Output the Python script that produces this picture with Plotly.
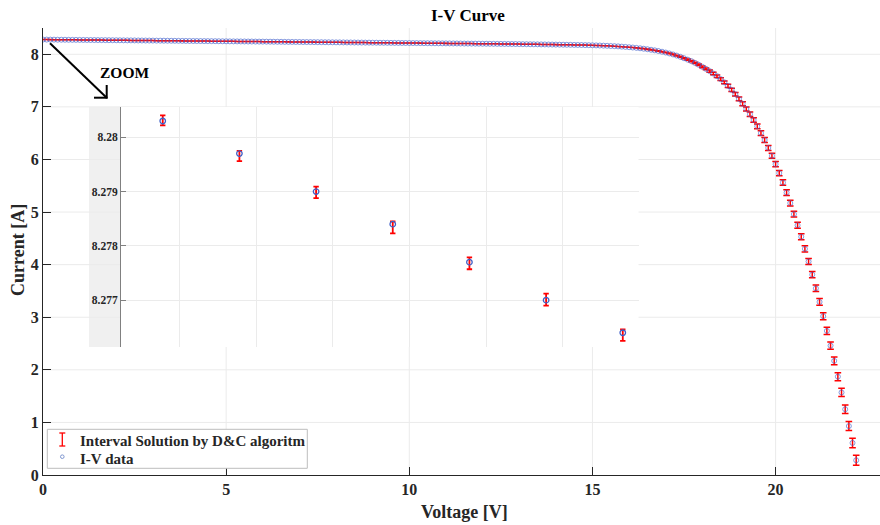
import plotly.graph_objects as go

# ---------------- data ----------------
voltage = [
    0.0, 0.1, 0.2, 0.3, 0.4, 0.5, 0.6, 0.7, 0.8, 0.9,
    1.0, 1.1, 1.2, 1.3, 1.4, 1.5, 1.6, 1.7, 1.8, 1.9,
    2.0, 2.1, 2.2, 2.3, 2.4, 2.5, 2.6, 2.7, 2.8, 2.9,
    3.0, 3.1, 3.2, 3.3, 3.4, 3.5, 3.6, 3.7, 3.8, 3.9,
    4.0, 4.1, 4.2, 4.3, 4.4, 4.5, 4.6, 4.7, 4.8, 4.9,
    5.0, 5.1, 5.2, 5.3, 5.4, 5.5, 5.6, 5.7, 5.8, 5.9,
    6.0, 6.1, 6.2, 6.3, 6.4, 6.5, 6.6, 6.7, 6.8, 6.9,
    7.0, 7.1, 7.2, 7.3, 7.4, 7.5, 7.6, 7.7, 7.8, 7.9,
    8.0, 8.1, 8.2, 8.3, 8.4, 8.5, 8.6, 8.7, 8.8, 8.9,
    9.0, 9.1, 9.2, 9.3, 9.4, 9.5, 9.6, 9.7, 9.8, 9.9,
    10.0, 10.1, 10.2, 10.3, 10.4, 10.5, 10.6, 10.7, 10.8, 10.9,
    11.0, 11.1, 11.2, 11.3, 11.4, 11.5, 11.6, 11.7, 11.8, 11.9,
    12.0, 12.1, 12.2, 12.3, 12.4, 12.5, 12.6, 12.7, 12.8, 12.9,
    13.0, 13.1, 13.2, 13.3, 13.4, 13.5, 13.6, 13.7, 13.8, 13.9,
    14.0, 14.1, 14.2, 14.3, 14.4, 14.5, 14.6, 14.7, 14.8, 14.9,
    15.0, 15.1, 15.2, 15.3, 15.4, 15.5, 15.6, 15.7, 15.8, 15.9,
    16.0, 16.1, 16.2, 16.3, 16.4, 16.5, 16.6, 16.7, 16.8, 16.9,
    17.0, 17.1, 17.2, 17.3, 17.4, 17.5, 17.6, 17.7, 17.8, 17.9,
    18.0, 18.1, 18.2, 18.3, 18.4, 18.5, 18.6, 18.7, 18.8, 18.9,
    19.0, 19.1, 19.2, 19.3, 19.4, 19.5, 19.6, 19.7, 19.8, 19.9,
    20.0, 20.1, 20.2, 20.3, 20.4, 20.5, 20.6, 20.7, 20.8, 20.9,
    21.0, 21.1, 21.2, 21.3, 21.4, 21.5, 21.6, 21.7, 21.8, 21.9,
    22.0, 22.1, 22.2,
]

current = [
    8.2803, 8.2797, 8.2790, 8.2784, 8.2777, 8.2770, 8.2764, 8.2757, 8.2750, 8.2744,
    8.2737, 8.2730, 8.2724, 8.2717, 8.2711, 8.2704, 8.2697, 8.2691, 8.2684, 8.2678,
    8.2671, 8.2664, 8.2658, 8.2651, 8.2645, 8.2638, 8.2631, 8.2625, 8.2618, 8.2612,
    8.2605, 8.2598, 8.2592, 8.2585, 8.2579, 8.2572, 8.2565, 8.2559, 8.2552, 8.2546,
    8.2539, 8.2532, 8.2526, 8.2519, 8.2513, 8.2506, 8.2499, 8.2493, 8.2486, 8.2480,
    8.2473, 8.2466, 8.2460, 8.2453, 8.2447, 8.2440, 8.2433, 8.2427, 8.2420, 8.2414,
    8.2407, 8.2400, 8.2394, 8.2387, 8.2381, 8.2374, 8.2367, 8.2361, 8.2354, 8.2348,
    8.2341, 8.2334, 8.2328, 8.2321, 8.2315, 8.2308, 8.2301, 8.2295, 8.2288, 8.2282,
    8.2275, 8.2268, 8.2262, 8.2255, 8.2249, 8.2242, 8.2235, 8.2229, 8.2222, 8.2216,
    8.2209, 8.2202, 8.2196, 8.2189, 8.2183, 8.2176, 8.2169, 8.2163, 8.2156, 8.2150,
    8.2143, 8.2136, 8.2130, 8.2123, 8.2117, 8.2110, 8.2103, 8.2097, 8.2090, 8.2084,
    8.2077, 8.2070, 8.2064, 8.2057, 8.2051, 8.2044, 8.2037, 8.2031, 8.2024, 8.2018,
    8.2011, 8.2004, 8.1998, 8.1991, 8.1985, 8.1978, 8.1971, 8.1965, 8.1958, 8.1952,
    8.1935, 8.1927, 8.1919, 8.1910, 8.1902, 8.1892, 8.1882, 8.1873, 8.1862, 8.1851,
    8.1839, 8.1829, 8.1819, 8.1808, 8.1798, 8.1786, 8.1773, 8.1762, 8.1747, 8.1731,
    8.1713, 8.1691, 8.1668, 8.1641, 8.1613, 8.1580, 8.1543, 8.1503, 8.1457, 8.1406,
    8.1347, 8.1286, 8.1220, 8.1144, 8.1060, 8.0964, 8.0863, 8.0751, 8.0626, 8.0488,
    8.0331, 8.0159, 7.9968, 7.9754, 7.9515, 7.9248, 7.8984, 7.8695, 7.8372, 7.8017,
    7.7615, 7.7228, 7.6802, 7.6345, 7.5839, 7.5282, 7.466, 7.398, 7.323, 7.241,
    7.151, 7.06, 6.96, 6.86, 6.75, 6.63, 6.50, 6.37, 6.22, 6.07,
    5.91, 5.74, 5.56, 5.37, 5.17, 4.96, 4.75, 4.53, 4.30, 4.06,
    3.81, 3.55, 3.29, 3.02, 2.74, 2.46, 2.17, 1.87, 1.57, 1.25,
    0.93, 0.61, 0.28,
]

# upper half-width of each interval solution
err_hi = [
    0.000105, 0.00005, 0.00009, 0.00005, 0.00009, 0.00012, 0.00006, 0.0001, 0.0001, 0.0001,
    0.0001, 0.0001, 0.0001, 0.0001, 0.0001, 0.0001, 0.0001, 0.0001, 0.0001, 0.0001,
    0.0001, 0.0001, 0.0001, 0.0001, 0.0001, 0.0001, 0.0001, 0.0001, 0.0001, 0.0001,
    0.0001, 0.0001, 0.0001, 0.0001, 0.0001, 0.0001, 0.0001, 0.0001, 0.0001, 0.0001,
    0.0001, 0.0001, 0.0001, 0.0001, 0.0001, 0.0001, 0.0001, 0.0001, 0.0001, 0.0001,
    0.0001, 0.0001, 0.0001, 0.0001, 0.0001, 0.0001, 0.0001, 0.0001, 0.0001, 0.0001,
    0.0001, 0.0001, 0.0001, 0.0001, 0.0001, 0.0001, 0.0001, 0.0001, 0.0001, 0.0001,
    0.0001, 0.0001, 0.0001, 0.0001, 0.0001, 0.0001, 0.0001, 0.0001, 0.0001, 0.0001,
    0.0001, 0.0001, 0.0001, 0.0001, 0.0001, 0.0001, 0.0001, 0.0001, 0.0001, 0.0001,
    0.0001, 0.0001, 0.0001, 0.0001, 0.0001, 0.0001, 0.0001, 0.0001, 0.0001, 0.0001,
    0.0001, 0.0001, 0.0001, 0.0001, 0.0001, 0.0001, 0.0001, 0.0001, 0.0001, 0.0001,
    0.0001, 0.0001, 0.0001, 0.0001, 0.0001, 0.0001, 0.0001, 0.0001, 0.0001, 0.0001,
    0.0001, 0.0001, 0.0001, 0.0001, 0.0001, 0.0001, 0.0001, 0.0001, 0.0001, 0.0001,
    0.0001, 0.0001, 0.0001, 0.0001, 0.0001, 0.0001, 0.0001, 0.0001, 0.0001, 0.0001,
    0.0001, 0.0001, 0.0001, 0.0001, 0.0001, 0.0001, 0.0001, 0.0001, 0.0001, 0.0001,
    0.0001, 0.0001, 0.0001, 0.0001, 0.0001, 0.0001, 0.0001, 0.0001, 0.0001, 0.0001,
    0.001, 0.0013, 0.0016, 0.002, 0.0025, 0.003, 0.0035, 0.004, 0.0047, 0.0053,
    0.006, 0.0068, 0.0076, 0.0084, 0.0092, 0.010, 0.011, 0.012, 0.013, 0.0145,
    0.016, 0.018, 0.020, 0.022, 0.024, 0.026, 0.028, 0.030, 0.032, 0.034,
    0.036, 0.038, 0.040, 0.042, 0.044, 0.045, 0.046, 0.047, 0.048, 0.049,
    0.050, 0.051, 0.052, 0.053, 0.054, 0.055, 0.056, 0.057, 0.058, 0.059,
    0.060, 0.062, 0.064, 0.066, 0.068, 0.070, 0.073, 0.076, 0.079, 0.082,
    0.086, 0.090, 0.095,
]
# lower half-widths differ only for the first (zoomed) points
err_lo_zoomed = [0.00008, 0.00014, 0.00012, 0.00017, 0.00013, 0.0001, 0.00015]
err_lo = err_lo_zoomed + err_hi[len(err_lo_zoomed):]

x_ticks = [0, 5, 10, 15, 20]
y_ticks = [0, 1, 2, 3, 4, 5, 6, 7, 8]
inset_y_ticks = [8.277, 8.278, 8.279, 8.28]
inset_y_text = ["8.277", "8.278", "8.279", "8.28"]
inset_x_grid = [0.0217, 0.1217, 0.2217, 0.3217, 0.4217, 0.5217]

# ---------------- layout helpers (pixel -> paper) ----------------
W, H = 880, 525
ML, MR, MT, MB = 43, 0, 28, 50
PW, PH = W - ML - MR, H - MT - MB
def X(px):
    return (px - ML) / PW
def Y(py):
    return (H - MB - py) / PH

FONT = "Liberation Serif, Times New Roman, serif"
DARK = "#262626"
RED = "#ff0000"
GRID = "#ebebeb"

fig = go.Figure()

# main axes
fig.add_trace(go.Scatter(
    x=voltage, y=current, mode="markers",
    marker=dict(size=1, color="rgba(0,0,0,0)"),
    error_y=dict(type="data", symmetric=False, array=err_hi, arrayminus=err_lo,
                 color=RED, thickness=1.5, width=3.3),
    showlegend=False, hoverinfo="skip", xaxis="x", yaxis="y"))
fig.add_trace(go.Scatter(
    x=voltage, y=current, mode="markers",
    marker=dict(symbol="circle-open", size=5, color="rgba(70,100,205,0.65)",
                line=dict(width=1, color="rgba(70,100,205,0.65)")),
    showlegend=False, xaxis="x", yaxis="y"))

# zoomed inset
fig.add_trace(go.Scatter(
    x=voltage, y=current, mode="markers",
    marker=dict(size=1, color="rgba(0,0,0,0)"),
    error_y=dict(type="data", symmetric=False, array=err_hi, arrayminus=err_lo,
                 color=RED, thickness=1.8, width=2.7),
    showlegend=False, hoverinfo="skip", xaxis="x2", yaxis="y2"))
fig.add_trace(go.Scatter(
    x=voltage, y=current, mode="markers",
    marker=dict(symbol="circle-open", size=5.5, color="#4060c8",
                line=dict(width=1.3, color="#4060c8")),
    showlegend=False, xaxis="x2", yaxis="y2"))

x_max = PW / 36.63
shapes = []
# main grid lines
for xv in x_ticks[1:]:
    shapes.append(dict(type="line", xref="x", yref="y", x0=xv, x1=xv, y0=0, y1=8.5,
                       line=dict(color=GRID, width=1), layer="below"))
for yv in y_ticks[1:]:
    shapes.append(dict(type="line", xref="x", yref="y", x0=0, x1=x_max, y0=yv, y1=yv,
                       line=dict(color=GRID, width=1), layer="below"))
# inset background + grey figure strip
shapes.append(dict(type="rect", xref="paper", yref="paper", x0=X(121), x1=X(638.5),
                   y0=Y(347), y1=Y(107), fillcolor="white", line=dict(width=0), layer="below"))
shapes.append(dict(type="rect", xref="paper", yref="paper", x0=X(89), x1=X(121),
                   y0=Y(347), y1=Y(107), fillcolor="#f0f0f0", line=dict(width=0), layer="below"))
# zoom arrow
arrow = dict(color="black", width=2)
shapes.append(dict(type="line", xref="paper", yref="paper", x0=X(50), y0=Y(43.3),
                   x1=X(106.7), y1=Y(97.7), line=arrow))
shapes.append(dict(type="line", xref="paper", yref="paper", x0=X(94), y0=Y(97.7),
                   x1=X(107.5), y1=Y(97.7), line=arrow))
shapes.append(dict(type="line", xref="paper", yref="paper", x0=X(106.7), y0=Y(85),
                   x1=X(106.7), y1=Y(98.5), line=arrow))
# legend box
shapes.append(dict(type="rect", xref="paper", yref="paper", x0=X(47.3), x1=X(307.3),
                   y0=Y(468.3), y1=Y(429.3), fillcolor="white",
                   line=dict(color="#bdbdbd", width=1)))
lr = dict(color=RED, width=1.3)
shapes.append(dict(type="line", xref="paper", yref="paper", x0=X(62.3), x1=X(62.3),
                   y0=Y(433), y1=Y(446), line=lr))
shapes.append(dict(type="line", xref="paper", yref="paper", x0=X(59.3), x1=X(65.3),
                   y0=Y(433), y1=Y(433), line=lr))
shapes.append(dict(type="line", xref="paper", yref="paper", x0=X(59.3), x1=X(65.3),
                   y0=Y(446), y1=Y(446), line=lr))
shapes.append(dict(type="circle", xref="paper", yref="paper", x0=X(60.5), x1=X(64.1),
                   y0=Y(458.5), y1=Y(454.9), line=dict(color="#8097d0", width=1)))

annotations = [
    dict(text="I-V Curve", x=X(468), y=Y(15), xref="paper", yref="paper",
         showarrow=False, xanchor="center", yanchor="middle",
         font=dict(family=FONT, size=17, color="black", weight="bold")),
    dict(text="Voltage [V]", x=X(464), y=Y(512), xref="paper", yref="paper",
         showarrow=False, xanchor="center", yanchor="middle",
         font=dict(family=FONT, size=18, color=DARK, weight="bold")),
    dict(text="Current [A]", x=X(18), y=Y(250), xref="paper", yref="paper",
         showarrow=False, xanchor="center", yanchor="middle", textangle=-90,
         font=dict(family=FONT, size=18, color=DARK, weight="bold")),
    dict(text="ZOOM", x=X(124.7), y=Y(72.5), xref="paper", yref="paper",
         showarrow=False, xanchor="center", yanchor="middle",
         font=dict(family=FONT, size=15.5, color="black", weight="bold")),
    dict(text="Interval Solution by D&C algoritm", x=X(77.7), y=Y(440.7),
         xref="paper", yref="paper", showarrow=False, xanchor="left", yanchor="middle",
         font=dict(family=FONT, size=15, color=DARK, weight="bold")),
    dict(text="I-V data", x=X(77.7), y=Y(459.3),
         xref="paper", yref="paper", showarrow=False, xanchor="left", yanchor="middle",
         font=dict(family=FONT, size=15, color=DARK, weight="bold")),
]

tickfont = dict(family=FONT, size=16, color=DARK, weight="bold")
fig.update_layout(
    width=W, height=H, autosize=False,
    margin=dict(l=ML, r=MR, t=MT, b=MB, pad=0),
    paper_bgcolor="white", plot_bgcolor="white",
    showlegend=False,
    shapes=shapes, annotations=annotations,
    xaxis=dict(domain=[0, 1], range=[0, x_max], tickvals=x_ticks, ticks="inside",
               ticklen=8, tickcolor=DARK, showline=True, linecolor=DARK, linewidth=1,
               showgrid=False, zeroline=False, tickfont=tickfont, anchor="y"),
    yaxis=dict(domain=[0, 1], range=[0, 8.5], tickvals=y_ticks, ticks="inside",
               ticklen=8, tickcolor=DARK, showline=True, linecolor=DARK, linewidth=1,
               showgrid=False, zeroline=False, tickfont=tickfont, anchor="x"),
    xaxis2=dict(domain=[X(121), X(638.5)], range=[-0.05444, 0.6205], anchor="y2",
                tickvals=inset_x_grid, showticklabels=False, ticks="",
                showgrid=True, gridcolor=GRID, showline=False, zeroline=False),
    yaxis2=dict(domain=[Y(347), Y(107)], range=[8.276138, 8.280558], anchor="x2",
                tickvals=inset_y_ticks, ticktext=inset_y_text, ticks="inside",
                ticklen=5, tickcolor="#808080", showline=True, linecolor="#808080",
                linewidth=1, showgrid=True, gridcolor=GRID, zeroline=False,
                tickfont=dict(family=FONT, size=11.5, color=DARK, weight="bold")),
)

fig.write_html("out.html")
